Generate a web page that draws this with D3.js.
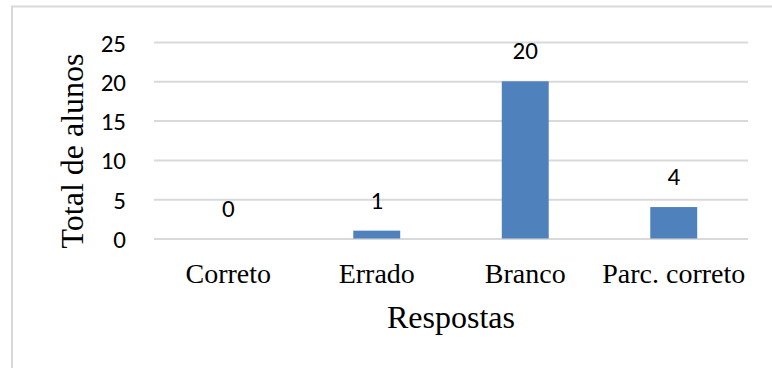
<!DOCTYPE html>
<html>
<head>
<meta charset="utf-8">
<script src="https://cdn.jsdelivr.net/npm/d3@7"></script>
<style>
  html, body { margin: 0; padding: 0; background: #fff; }
  svg { display: block; }
</style>
</head>
<body>
<svg id="chart" width="772" height="368"></svg>
<script>
const categories = ["Correto", "Errado", "Branco", "Parc. correto"];
const values = [0, 1, 20, 4];
const yTicks = [0, 5, 10, 15, 20, 25];
const yTitle = "Total de alunos";
const xTitle = "Respostas";

(function () {
const svg = d3.select("#chart");
const W = 772, H = 368;
const mLeft = 154, mRight = 748, mTop = 42, mBottom = 238.5;

const sansFont = "Carlito, 'Liberation Sans', Arial, sans-serif";
const serifFont = "'Liberation Serif', 'Times New Roman', serif";

// frame
svg.append("path")
  .attr("d", `M12,${H + 5} L12,6.5 L${W + 5},6.5`)
  .attr("fill", "none")
  .attr("stroke", "#d9d9d9")
  .attr("stroke-width", 2);

const x = d3.scaleBand().domain(categories).range([mLeft, mRight])
  .paddingInner(0.684).paddingOuter(0.342);
const y = d3.scaleLinear().domain([0, 25]).range([mBottom, mTop]);

// gridlines
const yAxis = d3.axisLeft(y).tickValues(yTicks).tickSize(-(mRight - mLeft)).tickPadding(28);
const gy = svg.append("g").attr("transform", `translate(${mLeft},0)`).call(yAxis);
gy.select(".domain").remove();
gy.selectAll(".tick line").attr("stroke", "#d9d9d9").attr("stroke-width", 2);
gy.selectAll(".tick text")
  .attr("font-family", sansFont)
  .attr("font-size", 25)
  .attr("fill", "#000")
  .attr("dy", "0.36em");

// bars
svg.append("g").selectAll("rect").data(values).join("rect")
  .attr("x", (d, i) => x(categories[i]))
  .attr("width", x.bandwidth())
  .attr("y", d => y(d))
  .attr("height", d => y(0) - y(d))
  .attr("fill", "#4f81bd");

// value labels
svg.append("g").selectAll("text").data(values).join("text")
  .attr("x", (d, i) => x(categories[i]) + x.bandwidth() / 2)
  .attr("y", d => y(d) - 22)
  .attr("text-anchor", "middle")
  .attr("font-family", sansFont)
  .attr("font-size", 25)
  .attr("fill", "#000")
  .text(d => d);

// category labels
const xAxis = d3.axisBottom(x).tickSize(0).tickPadding(0);
const gx = svg.append("g").attr("transform", `translate(0,${mBottom})`).call(xAxis);
gx.select(".domain").remove();
gx.selectAll(".tick text")
  .attr("font-family", serifFont)
  .attr("font-size", 28)
  .attr("fill", "#000")
  .attr("dy", 0)
  .attr("y", 44.5);

// axis titles
svg.append("text")
  .attr("x", (mLeft + mRight) / 2)
  .attr("y", 328)
  .attr("text-anchor", "middle")
  .attr("font-family", serifFont)
  .attr("font-size", 32)
  .attr("fill", "#000")
  .text(xTitle);

svg.append("text")
  .attr("transform", "translate(83,151) rotate(-90)")
  .attr("text-anchor", "middle")
  .attr("font-family", serifFont)
  .attr("font-size", 32)
  .attr("fill", "#000")
  .text(yTitle);
})();
</script>
</body>
</html>
